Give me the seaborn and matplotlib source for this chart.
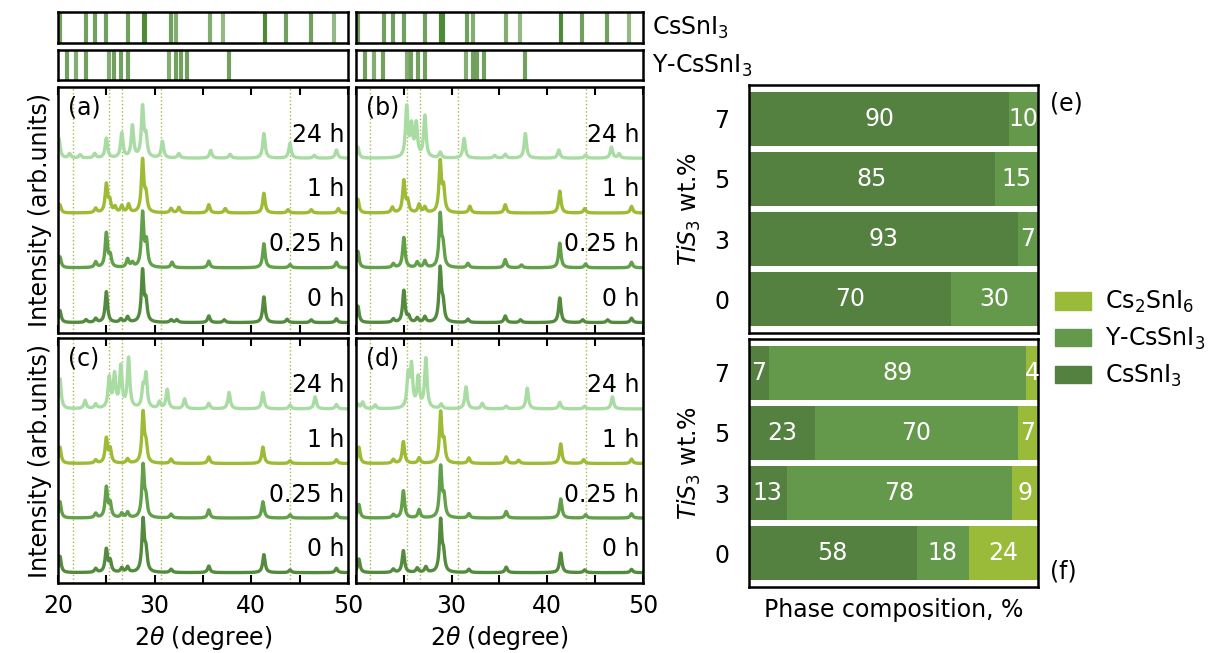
import numpy as np
import pandas as pd
import matplotlib
matplotlib.use('Agg')
import matplotlib.pyplot as plt
import matplotlib.patches as mpatches
from matplotlib.ticker import MultipleLocator
import seaborn as sns

# --- data ---
times = ['0 h', '0.25 h', '1 h', '24 h']
trace_colors = ['#548a3e', '#62a04a', '#9dbb34', '#a8dca2']

# reference lines (2theta, relative intensity)
ref_cssni3_pos = [20.2, 22.9, 23.85, 25.0, 27.2, 28.85, 29.05, 31.65, 32.2, 35.7, 37.1, 41.4, 43.6, 46.2, 48.5]
ref_cssni3_int = [0.8, 0.8, 0.8, 0.8, 0.8, 1.0, 1.0, 0.8, 0.7, 0.7, 0.6, 1.0, 0.8, 0.8, 0.6]
ref_ycssni3_pos = [20.9, 21.9, 22.85, 25.3, 25.75, 26.5, 27.2, 31.5, 32.2, 32.7, 33.35, 37.7]
ref_ycssni3_int = [0.8, 0.7, 0.8, 0.7, 0.8, 0.8, 0.8, 0.7, 0.8, 0.8, 0.8, 0.8]

dotted_lines = [21.5, 25.3, 26.65, 30.65, 44.0]

# peaks (position, height) for each panel and time
peaks_a = {
    '0 h': [(20.2, 0.22), (22.9, 0.05), (23.9, 0.07), (25.0, 0.56), (26.5, 0.06), (27.2, 0.1), (28.75, 0.93),
            (29.1, 0.35), (31.7, 0.05), (32.3, 0.05), (35.6, 0.12), (37.2, 0.05), (41.3, 0.47), (43.7, 0.06),
            (46.2, 0.05), (48.8, 0.07)],
    '0.25 h': [(20.2, 0.2), (23.9, 0.1), (25.0, 0.62), (25.4, 0.2), (27.2, 0.15), (27.7, 0.08), (28.75, 0.98),
               (29.15, 0.44), (31.8, 0.1), (35.6, 0.12), (41.3, 0.44), (44.0, 0.06), (48.8, 0.1)],
    '1 h': [(20.2, 0.15), (23.9, 0.08), (25.0, 0.51), (25.35, 0.2), (25.9, 0.1), (26.6, 0.12), (27.3, 0.15),
            (28.75, 0.95), (29.1, 0.3), (31.7, 0.08), (32.5, 0.1), (35.6, 0.15), (37.3, 0.08), (41.3, 0.36),
            (43.8, 0.06), (46.2, 0.06), (49.0, 0.08)],
    '24 h': [(20.1, 0.36), (21.2, 0.08), (22.3, 0.06), (23.8, 0.08), (25.0, 0.36), (26.6, 0.45), (27.7, 0.58),
             (28.75, 0.91), (29.1, 0.35), (30.8, 0.3), (32.5, 0.08), (35.8, 0.14), (37.8, 0.07), (41.3, 0.45),
             (44.0, 0.27), (46.5, 0.05), (48.8, 0.15)],
}
peaks_b = {
    '0 h': [(20.2, 0.3), (23.9, 0.06), (25.0, 0.58), (25.5, 0.1), (26.4, 0.08), (27.2, 0.1), (28.8, 0.97),
            (29.1, 0.3), (31.7, 0.06), (35.6, 0.12), (37.2, 0.05), (41.3, 0.45), (43.7, 0.05), (46.3, 0.05),
            (48.8, 0.08)],
    '0.25 h': [(20.2, 0.3), (23.9, 0.07), (25.0, 0.55), (26.4, 0.1), (27.2, 0.12), (28.8, 0.94), (29.1, 0.35),
               (31.7, 0.08), (35.6, 0.15), (37.3, 0.05), (41.3, 0.45), (44.0, 0.07), (48.8, 0.1)],
    '1 h': [(20.2, 0.25), (23.8, 0.1), (25.0, 0.58), (25.4, 0.2), (26.6, 0.15), (27.2, 0.1), (28.8, 0.91),
            (29.15, 0.42), (31.9, 0.12), (35.6, 0.15), (41.3, 0.4), (43.9, 0.08), (48.8, 0.12)],
    '24 h': [(20.2, 0.2), (25.3, 0.91), (25.8, 0.55), (26.3, 0.6), (27.2, 0.76), (28.8, 0.1), (31.3, 0.36),
             (34.5, 0.05), (35.6, 0.07), (37.7, 0.45), (41.2, 0.15), (44.0, 0.06), (46.7, 0.2), (47.5, 0.08)],
}
peaks_c = {
    '0 h': [(20.2, 0.3), (23.9, 0.07), (25.0, 0.42), (25.4, 0.2), (26.6, 0.08), (27.2, 0.1), (28.8, 0.94),
            (29.1, 0.35), (31.7, 0.06), (35.6, 0.12), (41.3, 0.33), (44.0, 0.05), (48.8, 0.08)],
    '0.25 h': [(20.2, 0.3), (23.9, 0.08), (25.0, 0.55), (25.4, 0.25), (26.6, 0.08), (27.2, 0.1), (28.8, 0.94),
               (29.1, 0.3), (31.7, 0.07), (35.6, 0.15), (41.2, 0.3), (44.0, 0.06), (48.8, 0.08)],
    '1 h': [(20.2, 0.3), (23.9, 0.06), (25.0, 0.45), (25.4, 0.25), (27.2, 0.08), (28.8, 0.91), (29.1, 0.3),
            (31.7, 0.08), (35.6, 0.12), (41.2, 0.3), (44.0, 0.05), (48.8, 0.07)],
    '24 h': [(20.2, 0.55), (22.8, 0.15), (23.9, 0.08), (25.3, 0.55), (25.85, 0.6), (26.5, 0.75), (27.3, 0.91),
             (28.8, 0.35), (29.1, 0.6), (30.5, 0.12), (31.3, 0.35), (33.1, 0.18), (35.6, 0.1), (37.7, 0.3),
             (41.2, 0.3), (44.0, 0.07), (46.6, 0.22), (48.8, 0.08)],
}
peaks_d = {
    '0 h': [(20.3, 0.25), (23.9, 0.06), (24.95, 0.4), (26.4, 0.08), (27.3, 0.1), (28.85, 0.94), (29.15, 0.3),
            (31.8, 0.06), (35.7, 0.1), (41.4, 0.36), (43.9, 0.05), (48.8, 0.06)],
    '0.25 h': [(20.3, 0.25), (23.9, 0.06), (24.95, 0.5), (26.6, 0.15), (28.85, 0.92), (29.2, 0.35), (31.8, 0.08),
               (35.7, 0.12), (41.4, 0.35), (44.0, 0.06), (48.8, 0.08)],
    '1 h': [(20.3, 0.3), (23.9, 0.07), (24.95, 0.4), (26.6, 0.1), (28.85, 0.91), (29.2, 0.35), (31.8, 0.1),
            (35.7, 0.12), (37.0, 0.06), (41.4, 0.36), (43.8, 0.07), (48.8, 0.08)],
    '24 h': [(20.2, 0.08), (20.7, 0.12), (22.0, 0.07), (25.45, 0.58), (25.8, 0.75), (26.5, 0.55), (27.3, 0.91),
             (28.9, 0.08), (31.5, 0.4), (33.2, 0.1), (35.7, 0.05), (37.9, 0.38), (41.3, 0.12), (43.9, 0.05),
             (46.8, 0.22)],
}

# phase composition
tis3 = ['7', '5', '3', '0']
e_cssni3 = [90, 85, 93, 70]
e_ycssni3 = [10, 15, 7, 30]
f_cssni3 = [7, 23, 13, 58]
f_ycssni3 = [89, 70, 78, 18]
f_cs2sni6 = [4, 7, 9, 24]

c_dark = '#548040'
c_mid = '#64994c'
c_light = '#9aba3a'

sns.set_style('white')
plt.rcParams['font.family'] = ['DejaVu Sans']
plt.rcParams['mathtext.fontset'] = 'dejavusans'
for k in ['text.color', 'axes.labelcolor', 'xtick.color', 'ytick.color']:
    plt.rcParams[k] = 'black'
FS = 17

W, H = 1222, 653
fig = plt.figure(figsize=(W / 100, H / 100), dpi=100)


def px_axes(x0, y0, x1, y1):
    return fig.add_axes([x0 / W, 1 - y1 / H, (x1 - x0) / W, (y1 - y0) / H])


def style_spines(ax):
    for s in ax.spines.values():
        s.set_visible(True)
        s.set_color('black')
        s.set_linewidth(1.8)


xx = np.linspace(20, 50, 1500)


def pattern(peaks, w=0.15):
    y = np.zeros_like(xx)
    for p, h in peaks:
        y += h / (1 + ((xx - p) / w) ** 2)
    return y


# reference stick panels
for (x0, x1) in [(58, 348), (356, 643)]:
    for (y0, y1), pos, inten in [((12, 43), ref_cssni3_pos, ref_cssni3_int),
                                 ((50, 80), ref_ycssni3_pos, ref_ycssni3_int)]:
        ax = px_axes(x0, y0, x1, y1)
        for p, a in zip(pos, inten):
            ax.axvline(p, color='#4f8a37', alpha=a, lw=3)
        ax.set_xlim(20, 50)
        ax.set_ylim(0, 1)
        ax.set_xticks([])
        ax.set_yticks([])
        style_spines(ax)

fig.text(652 / W, 1 - 28 / H, 'CsSnI$_3$', fontsize=FS, va='center', ha='left')
fig.text(652 / W, 1 - 66 / H, 'Y-CsSnI$_3$', fontsize=FS, va='center', ha='left')

# XRD panels
panels = [
    (peaks_a, '(a)', (58, 87, 348, 333), True, False),
    (peaks_b, '(b)', (356, 87, 643, 333), False, False),
    (peaks_c, '(c)', (58, 338, 348, 583), True, True),
    (peaks_d, '(d)', (356, 338, 643, 583), False, True),
]
for peaks, tag, rect, left, bottom in panels:
    ax = px_axes(*rect)
    rows = []
    for i, t in enumerate(times):
        rows.append(pd.DataFrame({'2theta': xx, 'I': pattern(peaks[t]) + i, 'time': t}))
    df = pd.concat(rows, ignore_index=True)
    for p in dotted_lines:
        ax.axvline(p, color='#a9b64a', lw=1.0, ls=':', zorder=0)
    sns.lineplot(data=df, x='2theta', y='I', hue='time', palette=dict(zip(times, trace_colors)),
                 legend=False, ax=ax, linewidth=2.4, estimator=None, sort=False)
    for i, t in enumerate(times):
        ax.text(49.6, i + 0.43, t, fontsize=FS, ha='right', va='center')
    ax.text(0.035, 0.965, tag, transform=ax.transAxes, fontsize=FS, ha='left', va='top')
    ax.set_xlim(20, 50)
    ax.set_ylim(-0.19, 4.3)
    ax.set_yticks([])
    ax.xaxis.set_major_locator(MultipleLocator(10))
    ax.xaxis.set_minor_locator(MultipleLocator(5))
    ax.tick_params(axis='x', which='both', direction='in', top=True, bottom=True,
                   length=6, width=1.5, labelsize=FS, labelbottom=bottom, pad=8)
    if bottom and not left:
        ax.set_xticks([20, 30, 40, 50])
        ax.set_xticklabels(['', '30', '40', '50'])
    style_spines(ax)
    ax.set_xlabel(r'2$\theta$ (degree)' if bottom else '', fontsize=FS)
    ax.set_ylabel('Intensity (arb.units)' if left else '', fontsize=FS)


# phase composition panels
def comp_panel(rect, segments, colors):
    ax = px_axes(*rect)
    cum = np.cumsum(np.array(segments), axis=0)
    # draw from the full bar down, so the earlier segments sit on top
    for k in range(len(segments) - 1, -1, -1):
        sns.barplot(x=cum[k], y=tis3, order=tis3, orient='y', color=colors[k],
                    saturation=1, width=0.9, ax=ax, linewidth=0)
    for k, seg in enumerate(segments):
        for j, v in enumerate(seg):
            ax.text(cum[k][j] - v / 2, j, str(v), color='white', fontsize=FS, ha='center', va='center')
    ax.set_xlim(0, 100)
    ax.set_ylim(3.56, -0.56)
    ax.set_xticks([])
    ax.set_xlabel('')
    ax.set_ylabel('$TiS_3$ wt.%', fontsize=FS, labelpad=8)
    ax.tick_params(axis='y', length=0, pad=14, labelsize=FS)
    style_spines(ax)
    return ax


comp_panel((749, 85, 1038, 333), [e_cssni3, e_ycssni3], [c_dark, c_mid])
axf = comp_panel((749, 339, 1038, 587), [f_cssni3, f_ycssni3, f_cs2sni6], [c_dark, c_mid, c_light])
axf.set_xlabel('Phase composition, %', fontsize=FS, labelpad=8)

fig.text(1050 / W, 1 - 104 / H, '(e)', fontsize=FS, va='center', ha='left')
fig.text(1050 / W, 1 - 572 / H, '(f)', fontsize=FS, va='center', ha='left')

handles = [mpatches.Patch(color=c_light, label='Cs$_2$SnI$_6$'),
           mpatches.Patch(color=c_mid, label='Y-CsSnI$_3$'),
           mpatches.Patch(color=c_dark, label='CsSnI$_3$')]
fig.legend(handles=handles, loc='upper left', bbox_to_anchor=(1034 / W, 1 - 268 / H), frameon=False,
           fontsize=FS, handlelength=1.5, handleheight=0.75, labelspacing=0.45, handletextpad=0.6)

fig.savefig('out.png', dpi=100)
